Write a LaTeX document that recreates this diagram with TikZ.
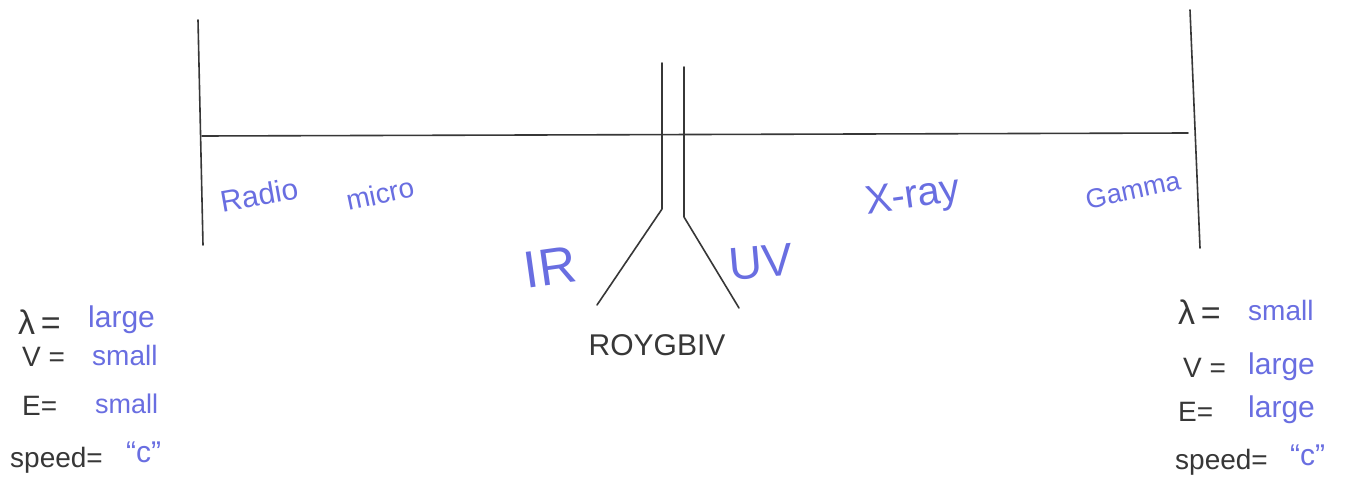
\documentclass[tikz,border=0pt]{standalone}
\usepackage{fontspec}
\setmainfont{Liberation Sans}
\definecolor{pen}{RGB}{105,110,225}
\definecolor{ink}{RGB}{55,55,55}
\tikzset{
  line/.style={draw=ink, line width=1.6pt, line cap=round, line join=round},
  bluelab/.style={text=pen, inner sep=0pt},
  inklab/.style={text=ink, inner sep=0pt},
}
\newcommand{\fs}[1]{\fontsize{#1}{#1}\selectfont}
\begin{document}
\begin{tikzpicture}[x=1pt,y=-1pt]
\useasboundingbox[fill=white] (0,0) rectangle (1362,487);
% frame lines
\coordinate (LT) at (198,20);
\coordinate (LB) at (203,245);
\coordinate (RT) at (1190,10);
\coordinate (RB) at (1200,248);
\coordinate (HL) at (202,136);
\coordinate (HR) at (1188,133);
\draw[line] (LT) -- (LB);
\draw[line] (RT) -- (RB);
\draw[line] (HL) -- (HR);
% visible band
\coordinate (A1) at (662,63);
\coordinate (A2) at (662,209);
\coordinate (A3) at (597,305);
\coordinate (B1) at (684,67);
\coordinate (B2) at (684,217);
\coordinate (B3) at (739,308);
\draw[line] (A1) -- (A2) -- (A3);
\draw[line] (B1) -- (B2) -- (B3);
% band labels
\node[bluelab, rotate=10] (radio) at (259,195) {\fs{30}Radio};
\node[bluelab, rotate=12] (micro) at (380,194) {\fs{28}micro};
\node[bluelab, rotate=8] (xray) at (913,198) {\fs{40}X-ray};
\node[bluelab, rotate=12] (gamma) at (1133,190) {\fs{27}Gamma};
\node[bluelab, rotate=8] (ir) at (550,267) {\fs{52}IR};
\node[bluelab, rotate=5] (uv) at (761,262) {\fs{46}UV};
\node[inklab] (roygbiv) at (657,345) {\fs{30}ROYGBIV};
% left block
\node[inklab, anchor=west] (l1) at (18,322) {\fs{34}λ\,=};
\node[bluelab, anchor=west] (l1v) at (88,320) {\fs{30}large};
\node[inklab, anchor=west] (l2) at (22,357) {\fs{28}V =};
\node[bluelab, anchor=west] (l2v) at (92,355) {\fs{28}small};
\node[inklab, anchor=west] (l3) at (22,406) {\fs{28}E=};
\node[bluelab, anchor=west] (l3v) at (95,404) {\fs{27}small};
\node[inklab, anchor=west] (l4) at (10,460) {\fs{28}speed=};
\node[bluelab, anchor=west] (l4v) at (126,452) {\fs{30}“c”};
% right block
\node[inklab, anchor=west] (r1) at (1178,312) {\fs{34}λ\,=};
\node[bluelab, anchor=west] (r1v) at (1248,310) {\fs{28}small};
\node[inklab, anchor=west] (r2) at (1183,368) {\fs{28}V =};
\node[bluelab, anchor=west] (r2v) at (1248,367) {\fs{30}large};
\node[inklab, anchor=west] (r3) at (1178,412) {\fs{28}E=};
\node[bluelab, anchor=west] (r3v) at (1248,410) {\fs{30}large};
\node[inklab, anchor=west] (r4) at (1175,462) {\fs{28}speed=};
\node[bluelab, anchor=west] (r4v) at (1290,455) {\fs{30}“c”};
\end{tikzpicture}
\end{document}
